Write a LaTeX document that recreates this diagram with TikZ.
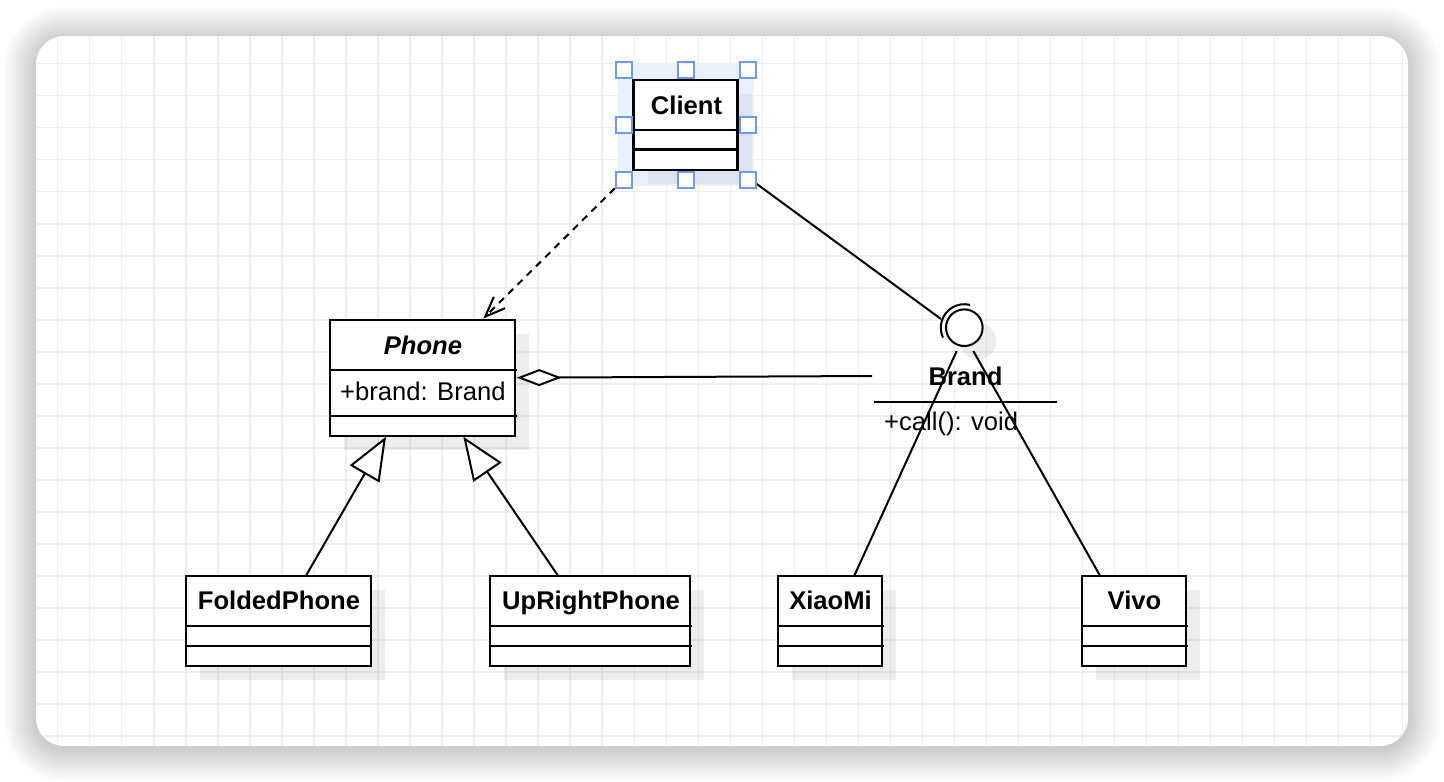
\documentclass[tikz,border=0pt]{standalone}
\usepackage{fontspec}
\setmainfont{Liberation Sans}
\usetikzlibrary{arrows.meta}
\newcommand\diagfs{\fontsize{25.6pt}{30pt}\selectfont}
\definecolor{gridc}{HTML}{EEEEEE}
\definecolor{selc}{HTML}{EBF1FC}
\definecolor{selsh}{HTML}{DDE4EF}
\definecolor{handc}{HTML}{6A9BEF}
\tikzset{
  cls/.style={draw, fill=white, line width=2pt, inner sep=0pt, outer sep=0pt},
  shd/.style={fill=black, opacity=0.07},
  lbl/.style={inner sep=0pt, anchor=base, font=\diagfs\bfseries},
  txt/.style={inner sep=0pt, anchor=base west, font=\diagfs},
  divl/.style={line width=2pt},
  conn/.style={line width=2pt},
  dep/.style={conn, dash pattern=on 7pt off 6pt, -{Straight Barb[length=20pt,width=16pt]}},
  gen/.style={conn, -{Triangle[length=43pt,width=34pt,fill=white]}},
  agg/.style={conn, {Diamond[length=45pt,width=17pt,fill=white]}-},
  handle/.style={draw=handc, fill=white, line width=1.6pt, minimum size=16pt, inner sep=0pt},
}
\begin{document}
\begin{tikzpicture}[x=1pt,y=-1pt,font=\diagfs]
\useasboundingbox (0,0) rectangle (1444,782);
% canvas shadow
\foreach \i in {1,...,25}{
  \pgfmathsetmacro\d{\i*1.3}
  \pgfmathsetmacro\r{28+\i*1.3}
  \fill[black,opacity=0.0065,rounded corners=\r pt] (36-\d,36-\d+3) rectangle (1408+\d,746+\d+3);
}
\fill[white, rounded corners=28pt] (36,36) rectangle (1408,746);
% grid
\begin{scope}
\clip[rounded corners=28pt] (36,36) rectangle (1408,746);
\foreach \k in {0,...,42} \draw[gridc, line width=1.3pt] ({57.8+32.02*\k},36) -- ({57.8+32.02*\k},746);
\foreach \k in {0,...,21} \draw[gridc, line width=1.3pt] (36,{63.8+32.01*\k}) -- (1408,{63.8+32.01*\k});
\end{scope}

% box shadows
\fill[shd] (344,334) rectangle (529.3,449.7);
\fill[shd] (200,589.7) rectangle (384.7,679.7);
\fill[shd] (504,589.7) rectangle (704.3,679.7);
\fill[shd] (791.7,589.7) rectangle (896,679.7);
\fill[shd] (1095.7,589.7) rectangle (1200.3,679.7);
\fill[shd] (978,341) circle[radius=18.3pt];

% Phone
\node[cls, minimum width=185.3pt, minimum height=115.7pt] (phone) at (422.65,377.85) {};
\draw[divl] (330,370) -- (517,370);
\draw[divl] (330,416) -- (517,416);
\node[lbl, font=\diagfs\bfseries\itshape] (phoneT) at (423,354) {Phone};
\node[txt] (phoneA) at (340,400) {+brand: Brand};

% FoldedPhone
\node[cls, minimum width=184.7pt, minimum height=90pt] (folded) at (278.35,620.7) {};
\draw[divl] (186,625.7) -- (372,625.7);
\draw[divl] (186,645.7) -- (372,645.7);
\node[lbl] (foldedT) at (279,609.6) {FoldedPhone};

% UpRightPhone
\node[cls, minimum width=200.3pt, minimum height=90pt] (upright) at (590.15,620.7) {};
\draw[divl] (490,625.7) -- (692,625.7);
\draw[divl] (490,645.7) -- (692,645.7);
\node[lbl] (uprightT) at (591,609.6) {UpRightPhone};

% XiaoMi
\node[cls, minimum width=104.3pt, minimum height=90pt] (xiaomi) at (829.85,620.7) {};
\draw[divl] (777.7,625.7) -- (884,625.7);
\draw[divl] (777.7,645.7) -- (884,645.7);
\node[lbl] (xiaomiT) at (830.5,609.6) {XiaoMi};

% Vivo
\node[cls, minimum width=104.6pt, minimum height=90pt] (vivo) at (1134,620.7) {};
\draw[divl] (1081.7,625.7) -- (1188,625.7);
\draw[divl] (1081.7,645.7) -- (1188,645.7);
\node[lbl] (vivoT) at (1134.5,609.6) {Vivo};

% Brand interface
\node[circle, draw, fill=white, line width=2pt, minimum size=36.6pt, inner sep=0pt] (brandI) at (964.3,327.7) {};
\draw[line width=2pt] (970.0,304.9) arc[start angle=76, end angle=205, radius=23.5pt];
\node[lbl] (brandT) at (965.5,385) {Brand};
\draw[divl] (874,401.7) -- (1056.7,401.7);
\node[txt] (brandA) at (884,430) {+call(): void};

% connector end points
\coordinate (pTop) at (483.3,318.5);
\coordinate (pTipL) at (386,436.7);
\coordinate (pTipR) at (463.3,436.7);
\coordinate (aggL) at (516.7,377.7);
\coordinate (aggR) at (872,376);
\coordinate (fTop) at (306,575.7);
\coordinate (uTop) at (558,575.7);
\coordinate (xTop) at (854.3,575.7);
\coordinate (vTop) at (1100,575.7);
\coordinate (bL) at (956.7,351);
\coordinate (bR) at (973.3,351);
\coordinate (bC) at (941,319);
\coordinate (cSW) at (633.3,170);
\coordinate (cSE) at (737.7,170);

% connectors
\draw[gen] (fTop) -- (pTipL);
\draw[gen] (uTop) -- (pTipR);
\draw[agg] (aggL) -- (aggR);
\draw[conn] (bL) -- (xTop);
\draw[conn] (bR) -- (vTop);
\draw[dep] (cSW) -- (pTop);
\draw[conn] (cSE) -- (bC);

% Client (selected)
\fill[selc] (618,63) rectangle (754,186);
\fill[selsh] (648,94) rectangle (751.7,183.5);
\node[cls, line width=2.8pt, minimum width=104.4pt, minimum height=90pt] (client) at (685.5,125) {};
\draw[line width=2.8pt] (633.3,130) -- (737.7,130);
\draw[line width=2.8pt] (633.3,149.7) -- (737.7,149.7);
\node[lbl] (clientT) at (686.5,114.2) {Client};
% selection handles
\node[handle] (h1) at (624,70) {};
\node[handle] (h2) at (686,70) {};
\node[handle] (h3) at (748,70) {};
\node[handle] (h4) at (624,125) {};
\node[handle] (h5) at (748,125) {};
\node[handle] (h6) at (624,180) {};
\node[handle] (h7) at (686,180) {};
\node[handle] (h8) at (748,180) {};
\end{tikzpicture}
\end{document}
